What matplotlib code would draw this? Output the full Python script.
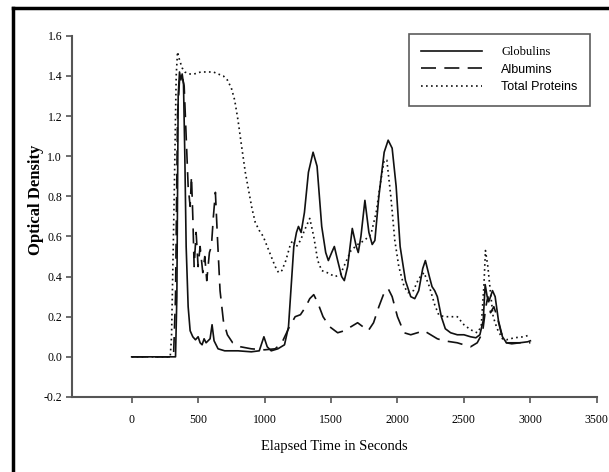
import matplotlib
matplotlib.use('Agg')
import matplotlib.pyplot as plt
from matplotlib.lines import Line2D
import numpy as np

# values (time in s, optical density)
glob_t = [0, 200, 330, 340, 350, 360, 370, 380, 390, 400, 410, 425, 440, 460, 480, 500, 515, 530,
          545, 560, 590, 605, 620, 650, 700, 800, 900, 960, 995, 1020, 1050, 1100, 1150, 1180,
          1200, 1220, 1240, 1255, 1275, 1300, 1330, 1365, 1395, 1430, 1460, 1480, 1505, 1525,
          1550, 1580, 1600, 1625, 1660, 1690, 1705, 1725, 1755, 1785, 1810, 1830, 1860, 1900,
          1930, 1960, 1990, 2020, 2060, 2100, 2130, 2160, 2190, 2210, 2240, 2260, 2280, 2300,
          2330, 2360, 2400, 2450, 2500, 2550, 2590, 2620, 2645, 2660, 2675, 2690, 2715, 2735,
          2760, 2790, 2820, 2860, 2920, 2980, 3000]
glob_v = [0, 0, 0, 0.3, 1.30, 1.42, 1.38, 1.41, 1.36, 1.0, 0.55, 0.25, 0.13, 0.10, 0.085, 0.10, 0.07, 0.06,
          0.09, 0.07, 0.09, 0.16, 0.08, 0.04, 0.03, 0.03, 0.025, 0.03, 0.10, 0.05, 0.03, 0.04, 0.06, 0.15,
          0.35, 0.55, 0.62, 0.65, 0.62, 0.72, 0.92, 1.02, 0.95, 0.65, 0.52, 0.48, 0.52, 0.55,
          0.48, 0.40, 0.38, 0.45, 0.64, 0.55, 0.52, 0.60, 0.78, 0.62, 0.56, 0.58, 0.80, 1.02,
          1.08, 1.04, 0.85, 0.55, 0.38, 0.30, 0.29, 0.33, 0.44, 0.48, 0.40, 0.35, 0.33, 0.30,
          0.20, 0.14, 0.12, 0.11, 0.11, 0.10, 0.095, 0.11, 0.18, 0.36, 0.30, 0.28, 0.33, 0.30,
          0.18, 0.10, 0.07, 0.065, 0.07, 0.075, 0.08]

alb_t = [0, 200, 315, 330, 345, 360, 380, 395, 410, 425, 440, 450, 460, 470, 485, 500, 515, 535,
         550, 565, 585, 600, 615, 630, 645, 665, 690, 720, 760, 820, 900, 1000, 1080, 1130, 1180,
         1230, 1270, 1310, 1340, 1370, 1400, 1440, 1490, 1550, 1600, 1650, 1700, 1740, 1780,
         1820, 1860, 1900, 1930, 1960, 2000, 2050, 2100, 2150, 2200, 2250, 2300, 2350, 2400,
         2450, 2500, 2550, 2600, 2640, 2665, 2680, 2700, 2725, 2750, 2780, 2820, 2900, 3000]
alb_v = [0, 0, 0, 0.3, 1.2, 1.38, 1.40, 1.35, 1.1, 0.85, 0.75, 0.90, 0.70, 0.45, 0.62, 0.45, 0.55, 0.42,
         0.50, 0.38, 0.52, 0.55, 0.70, 0.82, 0.60, 0.33, 0.18, 0.11, 0.07, 0.05, 0.04, 0.035, 0.04, 0.07, 0.14,
         0.20, 0.21, 0.25, 0.29, 0.31, 0.27, 0.20, 0.15, 0.12, 0.13, 0.15, 0.17, 0.15, 0.13,
         0.17, 0.25, 0.32, 0.34, 0.30, 0.20, 0.12, 0.11, 0.12, 0.13, 0.11, 0.09, 0.08, 0.075,
         0.07, 0.06, 0.05, 0.07, 0.12, 0.25, 0.30, 0.22, 0.25, 0.20, 0.12, 0.07, 0.07, 0.07]

tot_t = [0, 200, 290, 300, 320, 335, 345, 360, 380, 400, 430, 470, 520, 570, 615, 650, 690, 720,
         750, 775, 800, 825, 855, 880, 905, 930, 960, 990, 1020, 1050, 1080, 1105, 1130, 1160,
         1190, 1210, 1240, 1270, 1300, 1340, 1370, 1400, 1430, 1470, 1530, 1570, 1610, 1650,
         1700, 1750, 1800, 1840, 1870, 1900, 1920, 1950, 1980, 2010, 2050, 2080, 2120, 2160,
         2200, 2240, 2280, 2310, 2350, 2400, 2450, 2500, 2550, 2600, 2630, 2650, 2662, 2680,
         2700, 2720, 2750, 2790, 2820, 2880, 2950, 3000]
tot_v = [0, 0, 0, 0.1, 0.8, 1.40, 1.52, 1.48, 1.44, 1.42, 1.41, 1.41, 1.42, 1.42, 1.42, 1.41, 1.40, 1.38,
         1.34, 1.28, 1.18, 1.06, 0.92, 0.83, 0.74, 0.67, 0.63, 0.60, 0.55, 0.50, 0.45, 0.42, 0.43, 0.48,
         0.55, 0.58, 0.55, 0.58, 0.63, 0.69, 0.60, 0.48, 0.43, 0.42, 0.40, 0.41, 0.47, 0.53,
         0.56, 0.58, 0.61, 0.72, 0.86, 0.98, 0.98, 0.80, 0.58, 0.45, 0.35, 0.32, 0.33, 0.39,
         0.42, 0.35, 0.26, 0.21, 0.20, 0.20, 0.20, 0.16, 0.135, 0.12, 0.15, 0.35, 0.53, 0.45,
         0.32, 0.20, 0.14, 0.09, 0.085, 0.095, 0.10, 0.11]

x_ticks = [0, 500, 1000, 1500, 2000, 2500, 3000, 3500]
y_ticks = [-0.2, 0.0, 0.2, 0.4, 0.6, 0.8, 1.0, 1.2, 1.4, 1.6]

fig = plt.figure(figsize=(6.09, 4.72), dpi=100)
ax = fig.add_axes([0.118, 0.159, 0.862, 0.765])

ax.plot(glob_t, glob_v, color='#111111', lw=1.2, label='Globulins')
ax.plot(alb_t, alb_v, color='#111111', lw=1.2, dashes=(9, 5), label='Albumins')
ax.plot(tot_t, tot_v, color='#111111', lw=1.2, dashes=(1, 2), label='Total Proteins')

ax.set_xlim(-450, 3500)
ax.set_ylim(-0.2, 1.6)
ax.set_xticks(x_ticks)
ax.set_yticks(y_ticks)
ax.set_yticklabels([f'{v:.1f}' for v in y_ticks])

for s in ['top', 'right']:
    ax.spines[s].set_visible(False)
for s in ['left', 'bottom']:
    ax.spines[s].set_color('#555555')
    ax.spines[s].set_linewidth(1.5)
ax.tick_params(direction='out', length=4, width=1.2, color='#555555', labelsize=8.5, pad=3)
ax.tick_params(axis='x', pad=8)
for lab in ax.get_xticklabels() + ax.get_yticklabels():
    lab.set_family('Liberation Serif')

ax.set_xlabel('Elapsed Time in Seconds', family='Liberation Serif', fontsize=10.5, labelpad=10)
ax.set_ylabel('Optical Density', family='Liberation Serif', fontsize=12, fontweight='bold')
ax.yaxis.set_label_coords(-0.054, 0.545)

leg = ax.legend(loc='upper right', bbox_to_anchor=(0.987, 1.006), fontsize=9, frameon=True,
                fancybox=False, edgecolor='#333333', handlelength=4.9, handletextpad=1.5,
                borderpad=1.0, labelspacing=0.45, borderaxespad=0)
leg.get_frame().set_linewidth(1.2)
texts = leg.get_texts()
texts[0].set_family('Liberation Serif')
texts[1].set_family('Liberation Sans')
texts[2].set_family('Liberation Sans')

# outer frame, cropped on the right and bottom
fig.add_artist(Line2D([0.021, 0.021], [0.0, 0.983], transform=fig.transFigure, color='black', lw=2.5))
fig.add_artist(Line2D([0.021, 1.0], [0.983, 0.983], transform=fig.transFigure, color='black', lw=2.5))

fig.savefig('out.png', dpi=100)
